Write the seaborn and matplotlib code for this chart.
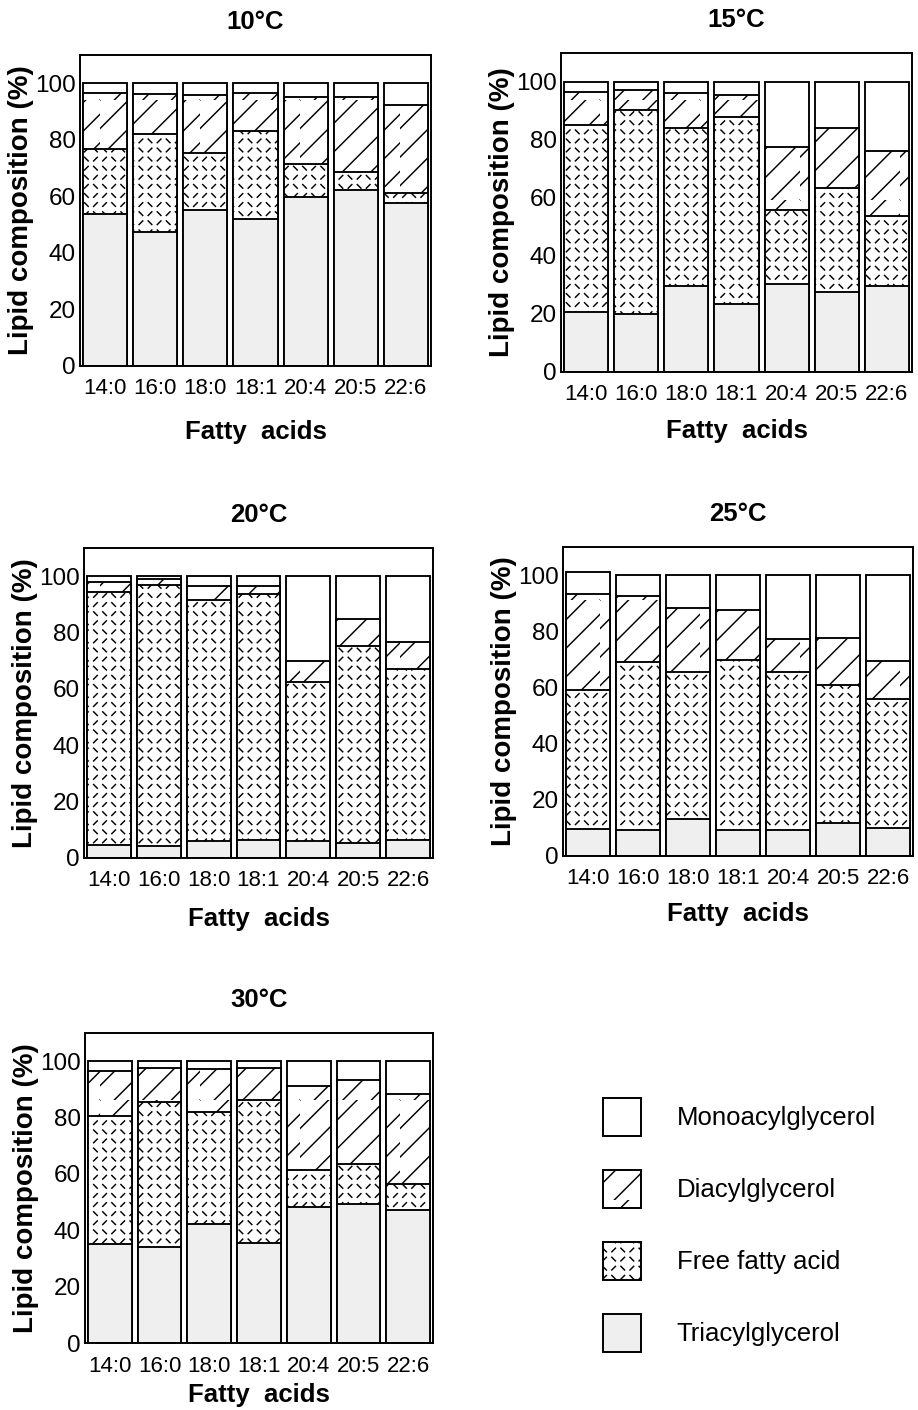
import numpy as np
import matplotlib
matplotlib.use('Agg')
import matplotlib.pyplot as plt
import matplotlib.hatch as mhatch
from matplotlib.path import Path
from matplotlib.patches import Patch
import seaborn as sns

acids = ['14:0', '16:0', '18:0', '18:1', '20:4', '20:5', '22:6']
temps = ['10°C', '15°C', '20°C', '25°C', '30°C']
lipids = ['Monoacylglycerol', 'Diacylglycerol', 'Free fatty acid', 'Triacylglycerol']

# lipid class share (%) per fatty acid
tag_10 = [53.7, 47.3, 55.3, 52.1, 59.7, 62.2, 57.7]
ffa_10 = [22.9, 34.9, 20.1, 31.0, 11.6, 6.4, 3.5]
dag_10 = [20.1, 14.1, 20.3, 13.4, 23.9, 26.6, 31.2]
mag_10 = [3.3, 3.7, 4.3, 3.5, 4.8, 4.8, 7.6]

tag_15 = [20.6, 20.0, 29.6, 23.6, 30.2, 27.7, 29.8]
ffa_15 = [64.5, 70.2, 54.5, 64.3, 25.6, 35.6, 23.9]
dag_15 = [11.6, 7.1, 12.0, 7.5, 21.7, 20.9, 22.5]
mag_15 = [3.3, 2.7, 3.9, 4.6, 22.5, 15.8, 23.8]

tag_20 = [4.5, 4.1, 5.9, 6.5, 6.2, 5.3, 6.5]
ffa_20 = [89.9, 92.7, 85.8, 87.2, 56.3, 70.1, 60.6]
dag_20 = [3.6, 2.3, 4.7, 2.7, 7.3, 9.5, 9.6]
mag_20 = [2.0, 0.9, 3.6, 3.6, 30.2, 15.1, 23.3]

tag_25 = [9.5, 9.3, 13.1, 9.3, 9.3, 11.9, 9.9]
ffa_25 = [49.6, 59.9, 52.5, 60.5, 56.1, 49.0, 45.9]
dag_25 = [34.1, 23.3, 22.7, 17.9, 11.7, 16.8, 13.5]
mag_25 = [7.8, 7.5, 11.7, 12.3, 22.9, 22.3, 30.7]

tag_30 = [35.2, 34.0, 42.3, 35.5, 48.2, 49.2, 47.1]
ffa_30 = [45.3, 51.5, 39.6, 50.8, 13.1, 14.3, 9.4]
dag_30 = [16.0, 12.1, 15.5, 11.4, 29.9, 29.7, 32.0]
mag_30 = [3.5, 2.4, 2.6, 2.3, 8.8, 6.8, 11.5]

panels = [
    (tag_10, ffa_10, dag_10, mag_10),
    (tag_15, ffa_15, dag_15, mag_15),
    (tag_20, ffa_20, dag_20, mag_20),
    (tag_25, ffa_25, dag_25, mag_25),
    (tag_30, ffa_30, dag_30, mag_30),
]


# short dashes leaning left/right in turn, like the free fatty acid fill of the scan
class DashHatch(mhatch.HatchPatternBase):
    def __init__(self, hatch, density):
        self.n = int(hatch.count('*') * density * 1.85)
        self.num_vertices = self.n * self.n * 2

    def set_vertices_and_codes(self, vertices, codes):
        c = (np.arange(self.n) + 0.5) / self.n
        cx, cy = np.meshgrid(c, c)
        ii, jj = np.meshgrid(np.arange(self.n), np.arange(self.n))
        sign = np.where((ii + jj) % 2 == 0, 1.0, -1.0).ravel()
        cx, cy = cx.ravel(), cy.ravel()
        h = 0.2 / self.n
        vertices[0::2, 0] = cx - h
        vertices[0::2, 1] = cy - sign * h
        vertices[1::2, 0] = cx + h
        vertices[1::2, 1] = cy + sign * h
        codes[0::2] = Path.MOVETO
        codes[1::2] = Path.LINETO


# '/' lines a bit closer than matplotlib's single '/', as in the scan
class DiagHatch(mhatch.HatchPatternBase):
    def __init__(self, hatch, density):
        self.num_lines = int(hatch.count('O') * density * 1.3)
        self.num_vertices = (self.num_lines + 1) * 2 if self.num_lines else 0

    def set_vertices_and_codes(self, vertices, codes):
        steps = np.linspace(-0.5, 0.5, self.num_lines + 1)
        vertices[0::2, 0] = 0.0 + steps
        vertices[0::2, 1] = 0.0 - steps
        vertices[1::2, 0] = 1.0 + steps
        vertices[1::2, 1] = 1.0 - steps
        codes[0::2] = Path.MOVETO
        codes[1::2] = Path.LINETO


mhatch._hatch_types = [t for t in mhatch._hatch_types
                       if t not in (mhatch.Stars, mhatch.LargeCircles)] + [DashHatch, DiagHatch]

sns.set_style('white')
plt.rcParams['font.family'] = ['Liberation Sans', 'DejaVu Sans']
plt.rcParams['text.color'] = 'black'
plt.rcParams['axes.labelcolor'] = 'black'
plt.rcParams['xtick.color'] = 'black'
plt.rcParams['ytick.color'] = 'black'
plt.rcParams['hatch.linewidth'] = 1.05
plt.rcParams['hatch.color'] = 'black'

# (face, hatch) for MAG, DAG, FFA, TAG
styles = [('white', ''), ('white', 'O'), ('white', '*'), ('#efefef', '')]

W, H = 918, 1410
fig = plt.figure(figsize=(W / 100, H / 100), dpi=100)

# axes boxes in pixels: left, right, top, bottom, and x label pad
boxes = [
    (80, 431, 55, 366, 15),
    (561, 912, 53, 372, 10),
    (84, 433, 548, 858, 11),
    (563, 913, 547, 856, 9),
    (85, 433, 1033, 1343, 5),
]

for (tag, ffa, dag, mag), title, (l, r, t, b, lp) in zip(panels, temps, boxes):
    ax = fig.add_axes([l / W, 1 - b / H, (r - l) / W, (b - t) / H])
    layers = np.cumsum([tag, ffa, dag, mag], axis=0)
    # draw tallest stack first, then cover it with the lower classes
    for k in range(3, -1, -1):
        face, hatch = styles[3 - k]
        sns.barplot(x=acids, y=layers[k], ax=ax, color=face, saturation=1,
                    edgecolor='black', linewidth=1.35, width=0.88, hatch=hatch)
    ax.set_xlim(-0.5, 6.5)
    ax.set_ylim(0, 110)
    ax.set_yticks(range(0, 101, 20))
    ax.set_yticks(range(10, 101, 20), minor=True)
    ax.set_xticks(np.arange(0.5, 6, 1), minor=True)
    ax.tick_params(axis='y', which='major', direction='in', length=5, width=1, labelsize=17.5, pad=3)
    ax.tick_params(axis='y', which='minor', direction='in', length=3, width=1)
    ax.tick_params(axis='x', which='major', length=0, labelsize=16, pad=9)
    ax.tick_params(axis='x', which='minor', direction='in', length=3, width=1)
    for s in ax.spines.values():
        s.set_visible(True)
        s.set_color('black')
        s.set_linewidth(1.4)
    ax.set_title(title, fontsize=18.5, fontweight='bold', pad=19)
    ax.set_xlabel('Fatty  acids', fontsize=18.5, fontweight='bold', labelpad=lp)
    ax.set_ylabel('Lipid composition (%)', fontsize=20, fontweight='bold', labelpad=1)

handles = [Patch(facecolor=f, edgecolor='black', hatch=h, linewidth=1.4) for f, h in styles]
fig.legend(handles, lipids, loc='upper left', bbox_to_anchor=(603 / W, 1 - 1098 / H),
           frameon=False, fontsize=18.5, handlelength=1.47, handleheight=1.9,
           handletextpad=1.4, labelspacing=1.32, borderpad=0, borderaxespad=0)

fig.savefig('out.png', dpi=100)
